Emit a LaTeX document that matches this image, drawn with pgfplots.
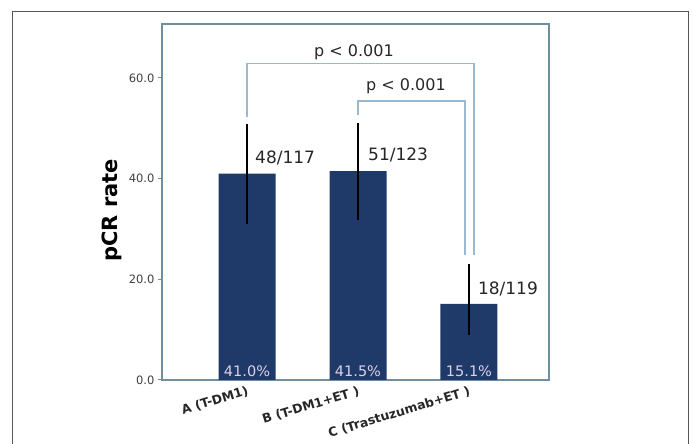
\documentclass[border=0pt]{standalone}
\usepackage{pgfplots}
\pgfplotsset{compat=1.18}
\usepackage{fontspec}
\setmainfont{DejaVu Sans}
\definecolor{barblue}{HTML}{1F3A68}
\definecolor{axisgray}{HTML}{6F8F9F}
\definecolor{bracketblue}{HTML}{9CB8D0}
\definecolor{pctcol}{HTML}{DCD0EA}
\definecolor{framegray}{HTML}{555555}
\begin{document}
\begin{tikzpicture}[x=1pt,y=1pt]
\path[use as bounding box] (0,0) rectangle (693,444);
\draw[color=framegray, line width=1pt] (12.7,0) -- (12.7,432) -- (688,432) -- (688,0);
\begin{axis}[
  at={(162pt,64pt)}, anchor=south west,
  scale only axis, width=387pt, height=356pt,
  xmin=-0.766, xmax=2.721, ymin=0, ymax=70.7,
  clip=false,
  axis line style={draw=axisgray, line width=1.3pt},
  xtick={0,1,2},
  xticklabels={A (T-DM1), B (T-DM1+ET ), C (Trastuzumab+ET )},
  x tick style={draw=none},
  xticklabel style={rotate=17, anchor=north east, font=\bfseries\fontsize{12.5}{12.5}\selectfont, color=black!85, inner sep=1pt},
  ytick={0,20,40,60},
  ytick pos=left,
  tick align=outside,
  major tick length=4pt,
  y tick style={color=axisgray, line width=1pt},
  yticklabel style={font=\fontsize{11.5}{11.5}\selectfont, color=black!75, /pgf/number format/.cd, fixed, fixed zerofill, precision=1, assume math mode=true},
  ylabel={pCR rate},
  ylabel style={at={(axis description cs:-0.129,0.477)}, anchor=center, font=\bfseries\fontsize{21}{21}\selectfont},
]
\addplot[ybar, fill=barblue, draw=none, bar width=57pt,
  error bars/.cd, y dir=both, y explicit,
  error bar style={black, line width=1.3pt},
  error mark options={black, line width=1.3pt, mark size=2pt}]
  coordinates {
  (0,41.0) += (0,9.5) -= (0,9.6)
  (1,41.5) += (0,9.1) -= (0,9.3)
  (2,15.1) += (0,7.6) -= (0,5.8)
  };
\addplot[color=bracketblue, line width=1.2pt, mark=none] coordinates {(0,52.2) (0,62.8) (2.045,62.8) (2.045,24.8)};
\addplot[color=bracketblue, line width=1.2pt, mark=none] coordinates {(1,52.6) (1,55.4) (1.964,55.4) (1.964,24.8)};
\node[font=\fontsize{16}{16}\selectfont, color=black!85] at (axis cs:0.964,65.1) {p < 0.001};
\node[font=\fontsize{16}{16}\selectfont, color=black!85] at (axis cs:1.432,58.4) {p < 0.001};
\node[font=\fontsize{17}{17}\selectfont, color=black!85, anchor=west, inner sep=0pt] at (axis cs:0.072,44.1) {48/117};
\node[font=\fontsize{17}{17}\selectfont, color=black!85, anchor=west, inner sep=0pt] at (axis cs:1.09,44.7) {51/123};
\node[font=\fontsize{17}{17}\selectfont, color=black!85, anchor=west, inner sep=0pt] at (axis cs:2.08,18.1) {18/119};
\node[font=\fontsize{14.5}{14.5}\selectfont, color=pctcol] at (axis cs:0,1.7) {41.0\%};
\node[font=\fontsize{14.5}{14.5}\selectfont, color=pctcol] at (axis cs:1,1.7) {41.5\%};
\node[font=\fontsize{14.5}{14.5}\selectfont, color=pctcol] at (axis cs:2,1.7) {15.1\%};
\end{axis}
\end{tikzpicture}
\end{document}
